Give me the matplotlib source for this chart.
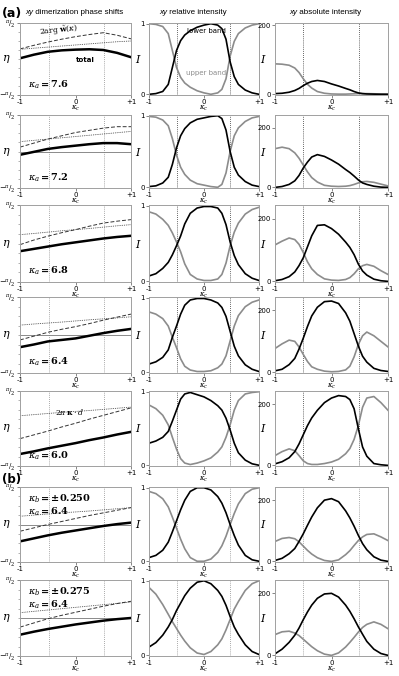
import numpy as np
import matplotlib
matplotlib.use("Agg")
import matplotlib.pyplot as plt

plt.rcParams["font.family"] = ["DejaVu Sans"]
plt.rcParams["mathtext.fontset"] = "dejavuserif"

# kappa_c sampling grids (denser near the band crossings)
KC_PHASE = [-1, -0.75, -0.5, -0.25, 0, 0.25, 0.5, 0.75, 1]
KC = [-1, -0.875, -0.75, -0.65, -0.575, -0.5, -0.425, -0.35, -0.25, -0.125, 0,
      0.125, 0.25, 0.325, 0.4, 0.475, 0.55, 0.625, 0.75, 0.875, 1]

ROW_LABELS = [
    [r"$\boldsymbol{\kappa_a = 7.6}$"],
    [r"$\boldsymbol{\kappa_a = 7.2}$"],
    [r"$\boldsymbol{\kappa_a = 6.8}$"],
    [r"$\boldsymbol{\kappa_a = 6.4}$"],
    [r"$\boldsymbol{\kappa_a = 6.0}$"],
    [r"$\boldsymbol{\kappa_b = \pm 0.250}$", r"$\boldsymbol{\kappa_a = 6.4}$"],
    [r"$\boldsymbol{\kappa_b = \pm 0.275}$", r"$\boldsymbol{\kappa_a = 6.4}$"],
]

# phase shifts, in units of pi/2
TOTAL = [
    [0.02, 0.12, 0.20, 0.24, 0.26, 0.27, 0.25, 0.17, 0.05],
    [-0.09, -0.01, 0.07, 0.12, 0.16, 0.20, 0.23, 0.23, 0.20],
    [-0.20, -0.14, -0.08, -0.02, 0.03, 0.08, 0.13, 0.17, 0.20],
    [-0.32, -0.25, -0.17, -0.13, -0.09, -0.02, 0.05, 0.11, 0.16],
    [-0.68, -0.61, -0.53, -0.46, -0.39, -0.31, -0.24, -0.16, -0.09],
    [-0.45, -0.37, -0.29, -0.22, -0.16, -0.10, -0.04, 0.01, 0.05],
    [-0.44, -0.36, -0.29, -0.23, -0.17, -0.12, -0.07, -0.03, 0.00],
]
ARG_W = [
    [0.28, 0.38, 0.47, 0.55, 0.62, 0.68, 0.73, 0.66, 0.56],
    [0.12, 0.23, 0.34, 0.43, 0.52, 0.58, 0.64, 0.68, 0.68],
    [-0.03, 0.09, 0.19, 0.28, 0.36, 0.45, 0.53, 0.58, 0.62],
    [-0.13, -0.03, 0.07, 0.15, 0.22, 0.30, 0.39, 0.47, 0.55],
    [-0.27, -0.17, -0.07, 0.04, 0.14, 0.25, 0.35, 0.45, 0.55],
    [-0.18, -0.09, 0.00, 0.08, 0.16, 0.24, 0.31, 0.38, 0.45],
    [-0.24, -0.13, -0.02, 0.07, 0.15, 0.23, 0.31, 0.38, 0.44],
]
KD = [
    [0.27, 0.30, 0.33, 0.36, 0.39, 0.42, 0.45, 0.48, 0.50],
    [0.27, 0.305, 0.34, 0.375, 0.41, 0.445, 0.48, 0.515, 0.55],
    [0.23, 0.26, 0.295, 0.33, 0.36, 0.39, 0.425, 0.46, 0.49],
    [0.26, 0.29, 0.315, 0.34, 0.37, 0.40, 0.425, 0.45, 0.48],
    [0.34, 0.37, 0.40, 0.43, 0.455, 0.48, 0.51, 0.54, 0.57],
    [0.22, 0.25, 0.28, 0.31, 0.335, 0.36, 0.39, 0.42, 0.45],
    [0.14, 0.175, 0.21, 0.245, 0.28, 0.315, 0.35, 0.385, 0.42],
]
ETA_LINE = [False, True, False, True, False, True, True]

# relative intensity (lower band, upper band)
REL_LOW = [
    [0.00, 0.01, 0.04, 0.14, 0.38, 0.62, 0.76, 0.84, 0.90, 0.95, 0.98, 1.00, 0.98, 0.93, 0.78, 0.46, 0.25, 0.14, 0.06, 0.02, 0.00],
    [0.01, 0.02, 0.06, 0.14, 0.32, 0.55, 0.72, 0.82, 0.90, 0.95, 0.97, 0.99, 1.00, 0.96, 0.80, 0.50, 0.28, 0.17, 0.08, 0.03, 0.01],
    [0.07, 0.10, 0.17, 0.25, 0.35, 0.47, 0.60, 0.76, 0.90, 0.97, 0.99, 0.99, 0.97, 0.90, 0.75, 0.52, 0.34, 0.22, 0.10, 0.04, 0.01],
    [0.11, 0.14, 0.20, 0.30, 0.47, 0.62, 0.78, 0.90, 0.97, 0.99, 0.99, 0.97, 0.93, 0.87, 0.75, 0.55, 0.35, 0.22, 0.10, 0.04, 0.01],
    [0.30, 0.33, 0.38, 0.46, 0.60, 0.75, 0.90, 0.97, 0.99, 0.96, 0.93, 0.88, 0.81, 0.75, 0.64, 0.48, 0.30, 0.17, 0.07, 0.02, 0.00],
    [0.05, 0.08, 0.15, 0.26, 0.40, 0.55, 0.70, 0.83, 0.95, 1.00, 1.00, 0.97, 0.88, 0.79, 0.66, 0.50, 0.35, 0.22, 0.08, 0.02, 0.00],
    [0.11, 0.17, 0.27, 0.38, 0.48, 0.60, 0.70, 0.80, 0.90, 0.98, 1.00, 0.96, 0.87, 0.79, 0.67, 0.52, 0.38, 0.28, 0.14, 0.05, 0.01],
]
REL_UP = [
    [1.00, 0.99, 0.96, 0.86, 0.62, 0.38, 0.24, 0.16, 0.10, 0.05, 0.02, 0.00, 0.02, 0.07, 0.22, 0.54, 0.75, 0.86, 0.94, 0.98, 1.00],
    [0.99, 0.98, 0.94, 0.86, 0.68, 0.45, 0.28, 0.18, 0.10, 0.05, 0.03, 0.01, 0.00, 0.04, 0.20, 0.50, 0.72, 0.83, 0.92, 0.97, 0.99],
    [0.92, 0.89, 0.82, 0.74, 0.64, 0.52, 0.39, 0.23, 0.09, 0.03, 0.01, 0.01, 0.03, 0.09, 0.24, 0.47, 0.65, 0.77, 0.89, 0.95, 0.98],
    [0.81, 0.78, 0.72, 0.62, 0.47, 0.33, 0.18, 0.08, 0.03, 0.01, 0.01, 0.02, 0.06, 0.11, 0.22, 0.42, 0.62, 0.76, 0.88, 0.94, 0.97],
    [0.82, 0.77, 0.68, 0.55, 0.38, 0.22, 0.09, 0.03, 0.01, 0.03, 0.06, 0.10, 0.18, 0.25, 0.38, 0.55, 0.75, 0.88, 0.97, 0.99, 1.00],
    [0.95, 0.92, 0.85, 0.74, 0.60, 0.45, 0.30, 0.17, 0.05, 0.00, 0.00, 0.03, 0.12, 0.21, 0.34, 0.50, 0.65, 0.78, 0.92, 0.98, 1.00],
    [0.91, 0.82, 0.68, 0.55, 0.45, 0.36, 0.27, 0.19, 0.10, 0.03, 0.01, 0.05, 0.14, 0.22, 0.34, 0.48, 0.62, 0.72, 0.87, 0.96, 1.00],
]

# absolute intensity (lower band, upper band)
ABS_LOW = [
    [2, 3, 6, 11, 17, 25, 32, 37, 40, 37, 30, 24, 17, 13, 8, 4, 2, 1, 0.5, 0, 0],
    [0, 3, 10, 22, 40, 65, 85, 102, 110, 104, 92, 78, 60, 50, 38, 25, 15, 10, 4, 1, 0],
    [2, 6, 15, 30, 50, 75, 110, 145, 178, 180, 168, 150, 125, 108, 85, 55, 33, 20, 7, 2, 0],
    [5, 10, 25, 45, 75, 110, 148, 182, 210, 228, 230, 222, 192, 165, 125, 85, 52, 33, 13, 6, 3],
    [5, 12, 25, 45, 70, 100, 130, 155, 180, 205, 220, 228, 225, 215, 185, 120, 60, 30, 6, 2, 0],
    [3, 10, 25, 42, 65, 90, 118, 145, 175, 200, 205, 195, 165, 142, 115, 85, 58, 38, 15, 4, 0],
    [5, 20, 42, 65, 88, 115, 140, 162, 184, 198, 200, 188, 162, 142, 118, 92, 68, 45, 20, 6, 0],
]
ABS_UP = [
    [88, 87, 84, 76, 63, 45, 29, 18, 8, 3, 1, 0.5, 0.5, 1, 1.5, 2, 2, 2, 1.5, 1, 0.5],
    [130, 135, 130, 116, 98, 75, 52, 33, 18, 7, 4, 3, 4, 6, 10, 15, 19, 20, 17, 11, 5],
    [116, 128, 138, 133, 118, 92, 62, 40, 22, 8, 4, 3, 6, 12, 24, 40, 50, 54, 48, 34, 22],
    [77, 92, 104, 100, 82, 58, 35, 18, 10, 4, 2, 3, 8, 20, 50, 90, 118, 130, 118, 100, 82],
    [32, 45, 54, 48, 32, 15, 6, 3, 3, 6, 11, 20, 38, 55, 85, 130, 190, 220, 225, 205, 180],
    [65, 75, 78, 74, 64, 50, 36, 24, 12, 3, 0, 5, 22, 35, 52, 68, 80, 88, 90, 80, 68],
    [67, 76, 78, 72, 64, 52, 40, 28, 15, 4, 0, 8, 27, 42, 58, 75, 90, 100, 108, 100, 86],
]
ABS_TOP = [206, 243, 243, 243, 243, 243, 243]

PHASE_VLINES = [-0.48, 0.52]
BAND_VLINES = [-0.5, 0.48]

# layout in pixels of the 399x676 figure
W, H = 399, 676
ROW_PX = [(23, 95), (115, 188), (205, 282), (297, 373), (391, 466), (487, 562), (580, 656)]
COL_PX = [(20, 131), (149, 259), (275, 388)]
GRAY = "#8c8c8c"
SPINE = "#a0a0a0"
TICK_FS = 5


def make_ax(fig, r, c):
    (x0, x1), (y0, y1) = COL_PX[c], ROW_PX[r]
    ax = fig.add_axes([x0 / W, 1 - y1 / H, (x1 - x0) / W, (y1 - y0) / H])
    for s in ax.spines.values():
        s.set_color(SPINE)
        s.set_linewidth(0.7)
    ax.set_xlim(-1, 1)
    ax.set_xticks([-1, 0, 1])
    ax.set_xticklabels(["-1", "0", "+1"])
    ax.tick_params(labelsize=TICK_FS, length=2, width=0.5, pad=1, color="#555555")
    ax.set_xlabel(r"$\kappa_c$", fontsize=5, labelpad=-1)
    return ax


def band_panel(ax, r, up, low):
    ax.text(-0.1, 0.5, r"$I$", transform=ax.transAxes, fontsize=8,
            ha="center", va="center")
    for v in BAND_VLINES:
        ax.axvline(v, color="#333333" if r < 5 else GRAY, lw=0.6, ls=(0, (1, 1.5)))
    ax.plot(KC, up[r], color=GRAY, lw=1.2, solid_joinstyle="round")
    ax.plot(KC, low[r], color="black", lw=1.2, solid_joinstyle="round")


fig = plt.figure(figsize=(W / 100, H / 100), dpi=100)

for r in range(7):
    # phase shifts
    ax = make_ax(fig, r, 0)
    ax.set_ylim(-1, 1)
    ax.set_yticks([-1, 1])
    ax.set_yticklabels([r"$-^{\pi}/_{2}$", r"$^{\pi}/_{2}$"])
    ax.set_yticks(np.arange(-0.75, 1.0, 0.25), minor=True)
    ax.tick_params(axis="y", which="minor", length=1.5, width=0.4, color="#777777")
    ax.text(-0.12, 0.5, r"$\eta$", transform=ax.transAxes, fontsize=8,
            ha="center", va="center")
    for v in PHASE_VLINES:
        ax.axvline(v, color=GRAY, lw=0.6, ls=(0, (1, 1.5)))
    if ETA_LINE[r]:
        ax.axhline(0, color="#777777", lw=0.6)
    ax.plot(KC_PHASE, KD[r], color="#333333", lw=0.6, ls=(0, (1, 1.2)))
    ax.plot(KC_PHASE, ARG_W[r], color="#333333", lw=0.7, ls=(0, (4, 2)))
    ax.plot(KC_PHASE, TOTAL[r], color="black", lw=1.8)
    if len(ROW_LABELS[r]) == 1:
        ax.text(0.07, 0.06, ROW_LABELS[r][0], transform=ax.transAxes,
                fontsize=7, ha="left", va="bottom")
    else:
        ax.text(0.07, 0.93, ROW_LABELS[r][0], transform=ax.transAxes,
                fontsize=7, ha="left", va="top")
        ax.text(0.07, 0.76, ROW_LABELS[r][1], transform=ax.transAxes,
                fontsize=7, ha="left", va="top")
    if r == 0:
        ax.text(-0.3, 0.78, r"$2\arg\,\tilde{\mathbf{w}}(\kappa)$",
                fontsize=5.5, rotation=6, ha="center", va="center")
        ax.text(0.18, -0.03, "total", fontsize=5, fontweight="bold",
                ha="center", va="center")
    if r == 4:
        ax.text(-0.11, 0.45, r"$2\pi\,\mathbf{\kappa}\cdot d$", fontsize=5.5,
                ha="center", va="center")

    # relative intensity
    ax = make_ax(fig, r, 1)
    ax.set_ylim(-0.01, 1.01)
    ax.set_yticks([0, 1])
    ax.set_yticklabels(["0", "1"])
    band_panel(ax, r, REL_UP, REL_LOW)
    if r == 0:
        ax.text(0.04, 0.9, "lower band", fontsize=5, ha="center", va="center")
        ax.text(0.04, 0.3, "upper band", fontsize=5, color=GRAY,
                ha="center", va="center")

    # absolute intensity
    ax = make_ax(fig, r, 2)
    ax.set_ylim(-2, ABS_TOP[r])
    ax.set_yticks([0, 200])
    ax.set_yticklabels(["0", "200"])
    band_panel(ax, r, ABS_UP, ABS_LOW)

# titles and panel letters
fig.text(2 / W, 1 - 13 / H, "(a)", fontsize=9, fontweight="bold", va="center")
fig.text(2 / W, 1 - 479 / H, "(b)", fontsize=8.5, fontweight="bold", va="center")
TITLE_SPLIT = [33, 167, 297]
TITLE_REST = [" dimerization phase shifts", " relative intensity", " absolute intensity"]
for x, rest in zip(TITLE_SPLIT, TITLE_REST):
    fig.text(x / W, 1 - 12 / H, "xy", fontsize=5.8, style="italic",
             family="Liberation Sans", ha="right", va="center")
    fig.text(x / W, 1 - 12 / H, rest, fontsize=5.8,
             family="Liberation Sans", ha="left", va="center")

fig.savefig("out.png", dpi=100)
